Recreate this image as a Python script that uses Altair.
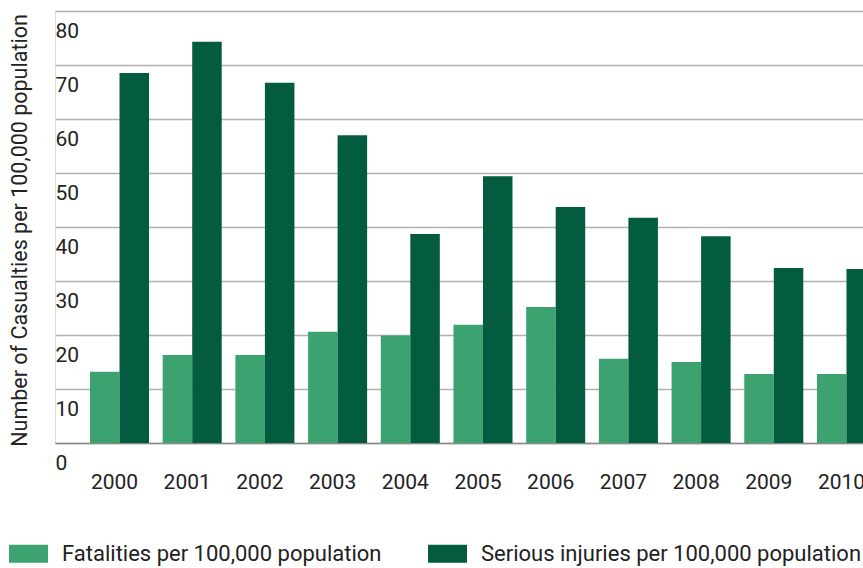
import altair as alt
import pandas as pd

years = ["2000", "2001", "2002", "2003", "2004", "2005", "2006", "2007", "2008", "2009", "2010"]
fatalities = [13.2, 16.3, 16.3, 20.6, 19.9, 21.9, 25.2, 15.6, 15.0, 12.8, 12.8]
injuries = [68.5, 74.3, 66.7, 57.0, 38.7, 49.4, 43.7, 41.7, 38.3, 32.4, 32.2]
series = ["Fatalities per 100,000 population", "Serious injuries per 100,000 population"]
colors = ["#3ca370", "#035c40"]
y_ticks = [0, 10, 20, 30, 40, 50, 60, 70, 80]

rows = []
for i, y in enumerate(years):
    rows.append({"year": y, "series": series[0], "value": fatalities[i]})
    rows.append({"year": y, "series": series[1], "value": injuries[i]})
df = pd.DataFrame(rows)

FONT = "Roboto"
TXT = "#222222"

chart = alt.Chart(df).mark_bar(clip=True).encode(
    x=alt.X("year:N", sort=years,
            scale=alt.Scale(paddingInner=0.188, paddingOuter=0.2407, align=1),
            axis=alt.Axis(title=None, labelAngle=0, ticks=False, domain=True,
                          domainColor="#8a8a8a", domainWidth=1.5,
                          labelPadding=28, labelOffset=-5, labelFont=FONT,
                          labelFontSize=21, labelColor=TXT, labelBaseline="top")),
    xOffset=alt.XOffset("series:N", sort=series,
                        scale=alt.Scale(paddingInner=0, paddingOuter=0)),
    y=alt.Y("value:Q",
            scale=alt.Scale(domain=[0, 80], nice=False),
            axis=alt.Axis(values=y_ticks, title="Number of Casualties per 100,000 population",
                          ticks=False, tickSize=0, domain=False, grid=True,
                          gridColor="#b0b0b0", gridWidth=1.5,
                          labelAlign="left", labelPadding=0, labelBaseline="top",
                          labelOffset=9, labelFlush=False, labelOverlap=False,
                          labelFont=FONT, labelFontSize=21, labelColor=TXT,
                          titleFont=FONT, titleFontSize=21.5, titleFontWeight="normal",
                          titleColor=TXT, titleAngle=270, titleBaseline="alphabetic",
                          titleAlign="center", titleX=-29, titleY=219)),
    color=alt.Color("series:N", sort=series,
                    scale=alt.Scale(domain=series, range=colors),
                    legend=alt.Legend(title=None, orient="none", direction="horizontal",
                                      legendX=-46, legendY=523,
                                      symbolType="M-1,-0.46H1V0.46H-1Z", symbolSize=1521,
                                      symbolStrokeWidth=0, symbolOpacity=1,
                                      labelFont=FONT, labelFontSize=22, labelColor=TXT,
                                      labelOffset=14, columnPadding=46, labelLimit=600)),
).properties(
    width=821, height=432,
    padding={"left": 55, "top": 11, "right": -13, "bottom": 125},
    autosize=alt.AutoSizeParams(type="none"),
).configure_view(stroke=None).configure(background="white")

chart.save("out.html", embed_options={"renderer": "svg", "actions": False})
